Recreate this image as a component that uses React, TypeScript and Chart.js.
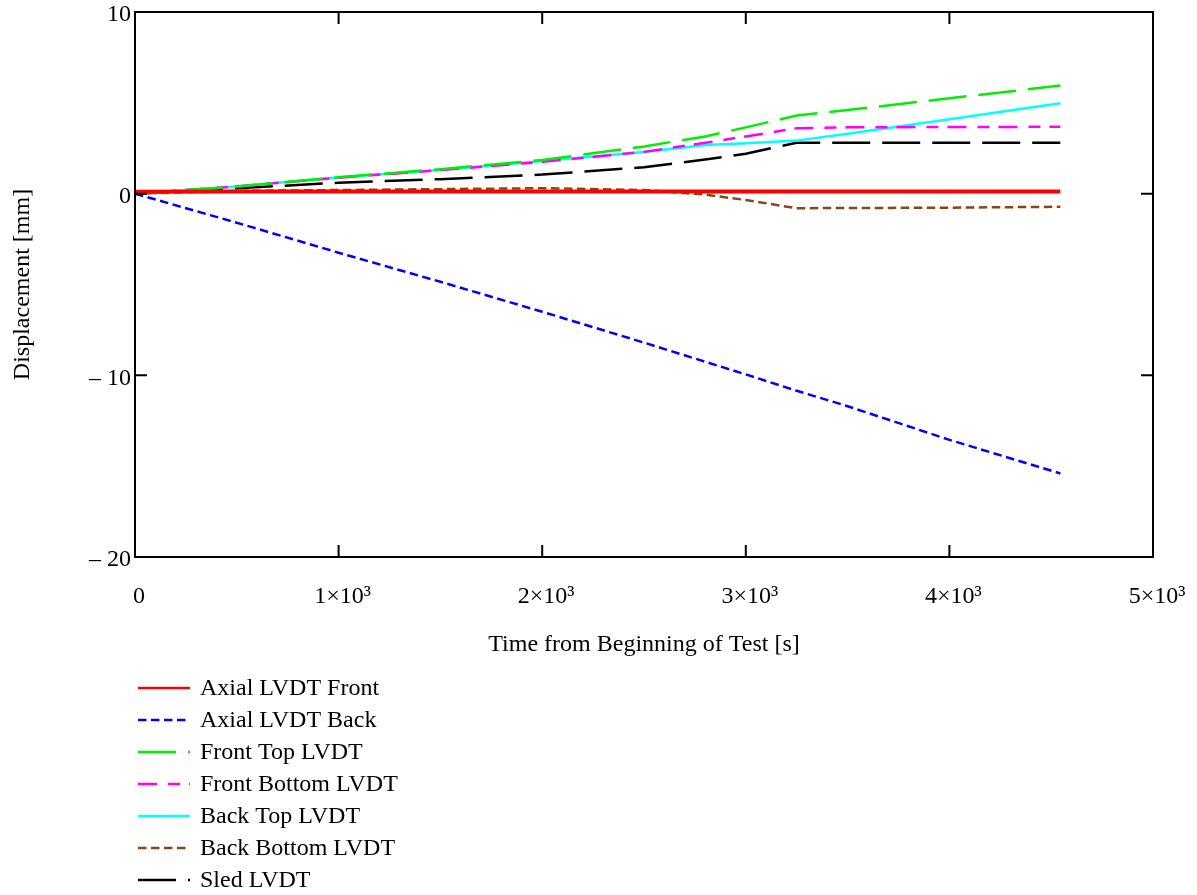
import React, { useEffect, useRef } from "react";
import { Chart, registerables } from "chart.js";

Chart.register(...registerables);

// Time samples [s]
const timeS = [0, 500, 1000, 1500, 2000, 2500, 2800, 3000, 3250, 3500, 4000, 4545];

// Displacement series [mm]
const axialFront = [0.1, 0.12, 0.12, 0.12, 0.12, 0.12, 0.12, 0.12, 0.12, 0.12, 0.12, 0.12];
const axialBack = [0, -1.6, -3.25, -4.85, -6.5, -8.2, -9.25, -9.95, -10.85, -11.7, -13.55, -15.4];
const frontTop = [0, 0.4, 0.9, 1.35, 1.85, 2.6, 3.15, 3.65, 4.3, 4.6, 5.25, 5.95];
const frontBottom = [0, 0.4, 0.88, 1.3, 1.75, 2.3, 2.8, 3.15, 3.6, 3.65, 3.67, 3.68];
const backTop = [0, 0.4, 0.9, 1.3, 1.8, 2.3, 2.68, 2.78, 2.92, 3.3, 4.1, 4.98];
const backBottom = [0, 0.15, 0.2, 0.25, 0.3, 0.2, -0.05, -0.35, -0.8, -0.79, -0.77, -0.72];
const sled = [0, 0.3, 0.6, 0.8, 1.05, 1.45, 1.88, 2.2, 2.8, 2.8, 2.8, 2.8];

const seriesLabels = [
  "Axial LVDT Front",
  "Axial LVDT Back",
  "Front Top LVDT",
  "Front Bottom LVDT",
  "Back Top LVDT",
  "Back Bottom LVDT",
  "Sled LVDT",
];
const seriesValues = [axialFront, axialBack, frontTop, frontBottom, backTop, backBottom, sled];
const seriesColors = ["#ff0000", "#0000ff", "#00ee00", "#ff00ff", "#00ffff", "#8b4513", "#000000"];
const seriesDash: number[][] = [[], [8.5, 4.5], [38, 12], [19, 11, 12, 9], [], [8.5, 4.5], [38, 12]];
const seriesWidth = [4, 2.5, 2.5, 2.5, 2.5, 2.5, 2.5];

// Axis settings
const xMin = 0, xMax = 5000, xStep = 1000;
const yMin = -20, yMax = 10, yStep = 10;

const FONT = "'Liberation Serif', 'Times New Roman', serif";

const boxAndTicks = {
  id: "boxAndTicks",
  afterDatasetsDraw(chart: any) {
    const { ctx, chartArea: a, scales } = chart;
    ctx.save();
    ctx.strokeStyle = "#000";
    ctx.lineWidth = 2;
    ctx.setLineDash([]);
    ctx.strokeRect(a.left, a.top, a.right - a.left, a.bottom - a.top);
    const tl = 12;
    ctx.beginPath();
    for (let v = xMin + xStep; v < xMax; v += xStep) {
      const px = scales.x.getPixelForValue(v);
      ctx.moveTo(px, a.bottom);
      ctx.lineTo(px, a.bottom - tl);
      ctx.moveTo(px, a.top);
      ctx.lineTo(px, a.top + tl);
    }
    for (let v = yMin + yStep; v < yMax; v += yStep) {
      const py = scales.y.getPixelForValue(v);
      ctx.moveTo(a.left, py);
      ctx.lineTo(a.left + tl, py);
      ctx.moveTo(a.right, py);
      ctx.lineTo(a.right - tl, py);
    }
    ctx.stroke();
    ctx.restore();
  },
};

const listLegend = {
  id: "listLegend",
  afterDraw(chart: any) {
    const { ctx } = chart;
    ctx.save();
    chart.data.datasets.forEach((ds: any, i: number) => {
      const y = 688 + i * 32;
      ctx.beginPath();
      ctx.strokeStyle = ds.borderColor;
      ctx.lineWidth = 2.5;
      ctx.setLineDash(ds.borderDash || []);
      ctx.moveTo(138, y);
      ctx.lineTo(190, y);
      ctx.stroke();
      ctx.setLineDash([]);
      ctx.fillStyle = "#000";
      ctx.font = `24px ${FONT}`;
      ctx.textBaseline = "middle";
      ctx.textAlign = "left";
      ctx.fillText(ds.label, 200, y + 1);
    });
    ctx.restore();
  },
};

export default function App() {
  const ref = useRef<HTMLCanvasElement | null>(null);

  useEffect(() => {
    if (!ref.current) return;
    const datasets = seriesLabels.map((label, i) => ({
      label,
      data: timeS.map((t, k) => ({ x: t, y: seriesValues[i][k] })),
      borderColor: seriesColors[i],
      backgroundColor: seriesColors[i],
      borderDash: seriesDash[i],
      borderWidth: seriesWidth[i],
      pointRadius: 0,
      tension: 0,
      fill: false,
    }));
    const ordered = datasets.map((d, i) => ({ ...d, order: i === 0 ? -1 : i }));
    const chart = new Chart(ref.current, {
      type: "line",
      data: { datasets: ordered },
      options: {
        animation: false,
        responsive: false,
        maintainAspectRatio: false,
        layout: { padding: { left: 0, top: 12, right: 44, bottom: 0 } },
        plugins: { legend: { display: false }, tooltip: { enabled: false } },
        scales: {
          x: {
            type: "linear",
            min: xMin,
            max: xMax,
            grid: { display: false, drawTicks: false },
            border: { display: false },
            afterFit: (s: any) => {
              s.height = 338;
              s.paddingLeft = 0;
              s.paddingRight = 0;
            },
            ticks: {
              stepSize: xStep,
              autoSkip: false,
              maxRotation: 0,
              padding: 25,
              labelOffset: 4,
              color: "#000",
              font: { family: FONT, size: 24 },
              callback: (v: any) => (v === 0 ? "0" : `${v / 1000}×10³`),
            },
            title: {
              display: true,
              text: "Time from Beginning of Test [s]",
              color: "#000",
              font: { family: FONT, size: 24 },
              padding: { top: 0, bottom: 236 },
            },
          },
          y: {
            type: "linear",
            min: yMin,
            max: yMax,
            grid: { display: false, drawTicks: false },
            border: { display: false },
            afterFit: (s: any) => {
              s.width = 135;
              s.paddingTop = 0;
              s.paddingBottom = 0;
            },
            ticks: {
              stepSize: yStep,
              padding: 4,
              labelOffset: 3,
              color: "#000",
              font: { family: FONT, size: 24 },
              callback: (v: any) => (v < 0 ? `– ${-v}` : `${v}`),
            },
            title: {
              display: true,
              text: "Displacement [mm]",
              color: "#000",
              font: { family: FONT, size: 24 },
              padding: { top: 8, bottom: 0 },
            },
          },
        },
      },
      plugins: [boxAndTicks, listLegend],
    });
    return () => chart.destroy();
  }, []);

  return (
    <div style={{ position: "absolute", left: 0, top: 0, width: 1197, height: 895, background: "#fff" }}>
      <canvas ref={ref} width={1197} height={895} style={{ width: 1197, height: 895 }} />
    </div>
  );
}
